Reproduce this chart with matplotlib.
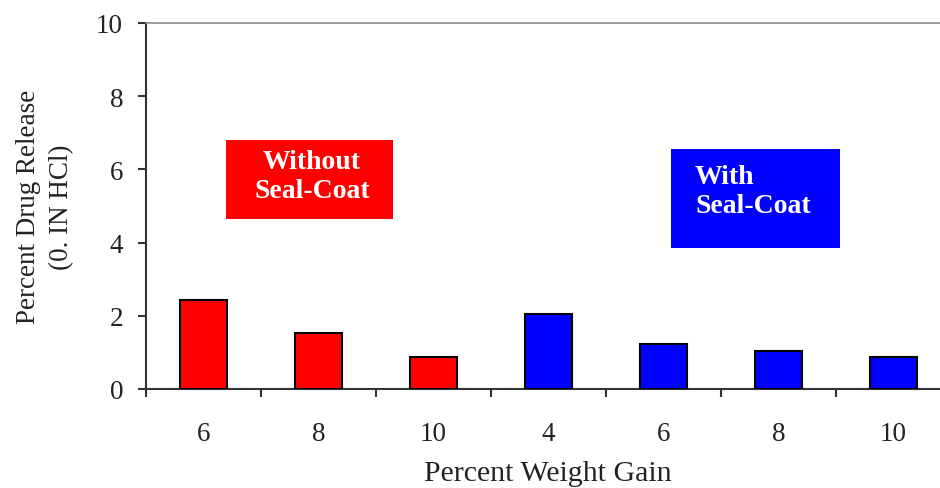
import numpy as np
import matplotlib
matplotlib.use("Agg")
import matplotlib.pyplot as plt
from matplotlib.patches import Rectangle

# ---- data ----
weight_gain = ["6", "8", "10", "4", "6", "8", "10"]
drug_release = [2.44, 1.52, 0.88, 2.06, 1.23, 1.05, 0.88]
coat_group = ["without", "without", "without", "with", "with", "with", "with"]
group_colors = {"without": "#ff0000", "with": "#0000ff"}

plt.rcParams["font.family"] = ["Liberation Serif", "DejaVu Serif"]

W, H = 940, 489
fig = plt.figure(figsize=(W / 100, H / 100), dpi=100)
ax = fig.add_axes([146 / W, 1 - 390 / H, 805 / W, 366 / H])

x = np.arange(len(weight_gain))
colors = [group_colors[g] for g in coat_group]
ax.bar(x, drug_release, width=0.41, color=colors, edgecolor="black", linewidth=1.5, zorder=3)

ax.set_xlim(-0.5, len(weight_gain) - 0.5)
ax.set_ylim(0, 10)
ax.set_yticks([0, 2, 4, 6, 8, 10])
# major ticks sit between groups, labels on minor ticks at bar centres
ax.set_xticks(np.arange(len(weight_gain) + 1) - 0.5, minor=False)
ax.set_xticklabels([])
ax.set_xticks(x, minor=True)
ax.set_xticklabels(weight_gain, minor=True)

ax.tick_params(axis="y", direction="out", length=6, width=1.5, color="#333333",
               pad=10.5, labelsize=19.5, labelcolor="#222222")
ax.tick_params(axis="x", which="major", direction="out", length=6, width=1.5, color="#333333")
ax.tick_params(axis="x", which="minor", length=0, pad=23, labelsize=19.5, labelcolor="#222222")

for side in ["left", "bottom"]:
    ax.spines[side].set_color("#333333")
    ax.spines[side].set_linewidth(1.5)
ax.spines["top"].set_color("#8a8a8a")
ax.spines["top"].set_linewidth(1.2)
ax.spines["right"].set_visible(False)

# legend-like boxes
ax.add_patch(Rectangle((0.196, 4.64), 1.452, 2.16, facecolor="#ff0000", edgecolor="none", zorder=4))
ax.text(0.943, 5.82, "Without\nSeal-Coat", color="white", fontsize=20, fontweight="bold",
        ha="center", va="center", multialignment="center", linespacing=1.25, zorder=5)
ax.add_patch(Rectangle((4.065, 3.85), 1.47, 2.71, facecolor="#0000ff", edgecolor="none", zorder=4))
ax.text(4.274, 5.41, "With\nSeal-Coat", color="white", fontsize=20, fontweight="bold",
        ha="left", va="center", multialignment="left", linespacing=1.25, zorder=5)

fig.text(45 / W, 1 - 207 / H, "Percent Drug Release\n(0. IN HCl)", rotation=90,
         ha="center", va="center", multialignment="center", fontsize=19.5,
         linespacing=1.4, color="#222222")
fig.text(548 / W, 1 - 481 / H, "Percent Weight Gain", ha="center", va="baseline",
         fontsize=21.5, color="#222222")

fig.savefig("out.png", dpi=100)
